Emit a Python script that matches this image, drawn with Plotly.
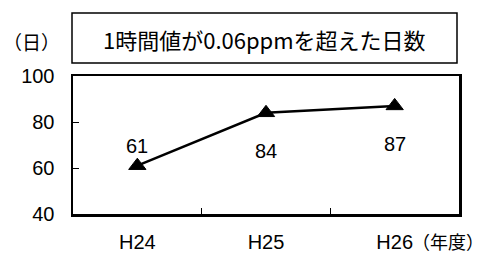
import plotly.graph_objects as go

categories = ["H24", "H25", "H26"]
days = [61, 84, 87]
y_ticks = [40, 60, 80, 100]
title_text = "1時間値が0.06ppmを超えた日数"
y_unit = "（日）"
x_unit = "（年度）"

# style: vertical pixel offset of each value label
label_shift = [20, -38, -38]

W, H = 498, 253
L, R, T, B = 73, 39, 76, 39
pw, ph = W - L - R, H - T - B

def px_x(p):
    return (p - L) / pw

def px_y(p):
    return (H - B - p) / ph

fig = go.Figure()
fig.add_trace(go.Scatter(
    x=categories, y=days, mode="lines+markers",
    line=dict(color="black", width=2.5),
    marker=dict(symbol="triangle-up", size=15, color="black",
                line=dict(color="black", width=1)),
    hoverinfo="skip", showlegend=False,
))

num_font = dict(family="Liberation Sans, Arial, sans-serif", size=20, color="black")
jp_font = dict(family="Noto Sans CJK JP, sans-serif", size=22, color="black")

annotations = []
for c, v, s in zip(categories, days, label_shift):
    annotations.append(dict(x=c, y=v, xref="x", yref="y", text=str(v),
                            showarrow=False, yshift=s, font=num_font))

annotations.append(dict(x=px_x(264.5), y=px_y(39), xref="paper", yref="paper",
                        text=title_text, showarrow=False, font=jp_font,
                        xanchor="center", yanchor="middle"))
annotations.append(dict(x=px_x(31), y=px_y(41), xref="paper", yref="paper",
                        text=y_unit, showarrow=False,
                        font=dict(family="Noto Sans CJK JP, sans-serif", size=19, color="black"),
                        xanchor="center", yanchor="middle"))
annotations.append(dict(x=px_x(448), y=px_y(241), xref="paper", yref="paper",
                        text=x_unit, showarrow=False, borderpad=0,
                        font=dict(family="Noto Sans CJK JP, sans-serif", size=18, color="black"),
                        xanchor="center", yanchor="middle"))

fig.update_layout(
    width=W, height=H,
    margin=dict(l=L, r=R, t=T, b=B, pad=0),
    paper_bgcolor="white", plot_bgcolor="white",
    annotations=annotations,
    shapes=[dict(type="rect", xref="paper", yref="paper",
                 x0=px_x(72), x1=px_x(457), y0=px_y(63), y1=px_y(13),
                 line=dict(color="black", width=1.5), fillcolor="rgba(0,0,0,0)")],
)

fig.update_xaxes(
    type="category", range=[-0.5, 2.5], tickson="boundaries",
    ticks="inside", ticklen=6, tickwidth=1, tickcolor="black",
    showline=True, linecolor="black", linewidth=2.5, mirror=True,
    showgrid=False, zeroline=False, automargin=False,
    tickfont=num_font,
    ticklabelstandoff=8,
)
fig.update_yaxes(
    range=[40, 100], tickvals=y_ticks,
    ticks="inside", ticklen=6, tickwidth=1, tickcolor="black",
    showline=True, linecolor="black", linewidth=2.5, mirror=True,
    showgrid=False, zeroline=False, automargin=False,
    tickfont=num_font, ticklabelstandoff=12,
)

fig.write_html("out.html", config={"displayModeBar": False, "staticPlot": True},
               post_script="document.body.style.margin='0';document.body.style.overflow='hidden';")
